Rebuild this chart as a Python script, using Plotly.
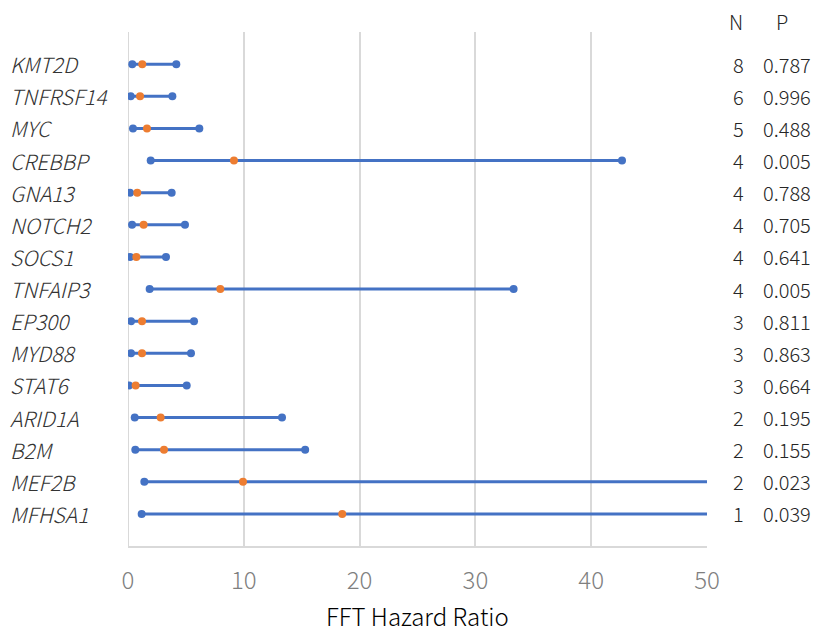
import plotly.graph_objects as go

genes = ["KMT2D", "TNFRSF14", "MYC", "CREBBP", "GNA13", "NOTCH2", "SOCS1", "TNFAIP3",
         "EP300", "MYD88", "STAT6", "ARID1A", "B2M", "MEF2B", "MFHSA1"]
hr = [1.23, 1.04, 1.64, 9.15, 0.80, 1.35, 0.72, 7.97, 1.21, 1.21, 0.66, 2.82, 3.11, 9.93, 18.5]
lower = [0.37, 0.23, 0.43, 1.96, 0.17, 0.35, 0.17, 1.87, 0.26, 0.26, 0.09, 0.58, 0.63, 1.41, 1.18]
upper = [4.17, 3.83, 6.16, 42.66, 3.77, 4.92, 3.28, 33.3, 5.70, 5.44, 5.07, 13.3, 15.3, 65.0, 70.0]
n_vals = [8, 6, 5, 4, 4, 4, 4, 4, 3, 3, 3, 2, 2, 2, 1]
p_vals = ["0.787", "0.996", "0.488", "0.005", "0.788", "0.705", "0.641", "0.005",
          "0.811", "0.863", "0.664", "0.195", "0.155", "0.023", "0.039"]
x_ticks = [0, 10, 20, 30, 40, 50]

BLUE = "#4472C4"
ORANGE = "#ED7D31"
GRID = "#d9d9d9"
FONT = "Noto Sans CJK JP"

n = len(genes)
ys = [n - i for i in range(n)]

lx, ly = [], []
for lo, hi, y in zip(lower, upper, ys):
    lx += [lo, hi, None]
    ly += [y, y, None]

fig = go.Figure()
fig.add_trace(go.Scatter(x=lx, y=ly, mode="lines+markers",
                         line=dict(color=BLUE, width=3),
                         marker=dict(color=BLUE, size=8),
                         hoverinfo="skip", showlegend=False))
fig.add_trace(go.Scatter(x=hr, y=ys, mode="markers",
                         marker=dict(color=ORANGE, size=8),
                         showlegend=False))

txt = dict(family=FONT, size=20, color="#262626", weight=300)
ann = []
for g, y, nv, pv in zip(genes, ys, n_vals, p_vals):
    ann.append(dict(x=-0.207, xref="paper", y=y, yref="y", text=f"<i>{g}</i>",
                    showarrow=False, xanchor="left", yanchor="middle",
                    font=dict(family=FONT, size=21, color="#333333", weight=300)))
    ann.append(dict(x=(738 - 128) / 579, xref="paper", y=y, yref="y", text=str(nv),
                    showarrow=False, xanchor="center", yanchor="middle", font=txt))
    ann.append(dict(x=(787 - 128) / 579, xref="paper", y=y, yref="y", text=pv,
                    showarrow=False, xanchor="center", yanchor="middle", font=txt))
ann.append(dict(x=(736 - 128) / 579, xref="paper", y=(546 - 21) / 514, yref="paper", text="N",
                showarrow=False, xanchor="center", yanchor="middle", font=txt))
ann.append(dict(x=(782 - 128) / 579, xref="paper", y=(546 - 21) / 514, yref="paper", text="P",
                showarrow=False, xanchor="center", yanchor="middle", font=txt))
ann.append(dict(x=0.5, xref="paper", y=(546 - 615) / 514, yref="paper", text="FFT Hazard Ratio",
                showarrow=False, xanchor="center", yanchor="middle",
                font=dict(family=FONT, size=24, color="#000000", weight=300)))

fig.update_layout(
    width=819, height=633,
    margin=dict(l=128, r=112, t=32, b=87),
    plot_bgcolor="white", paper_bgcolor="white",
    annotations=ann,
    shapes=[dict(type="line", xref="x", yref="paper", x0=0, x1=0, y0=0, y1=1,
                 line=dict(color=GRID, width=2), layer="below")],
    xaxis=dict(range=[0, 50], tickvals=x_ticks, showgrid=True, gridcolor=GRID,
               gridwidth=2, zeroline=False, showline=True, linecolor=GRID, linewidth=2,
               ticks="outside", ticklen=12, tickcolor="rgba(0,0,0,0)",
               tickfont=dict(family=FONT, size=24, color="#7f7f7f", weight=300)),
    yaxis=dict(range=[0, 16], showgrid=False, zeroline=False, showline=False,
               showticklabels=False, ticks=""),
)

fig.write_html("out.html", config={"displayModeBar": False},
               post_script="document.body.style.margin='0';")
